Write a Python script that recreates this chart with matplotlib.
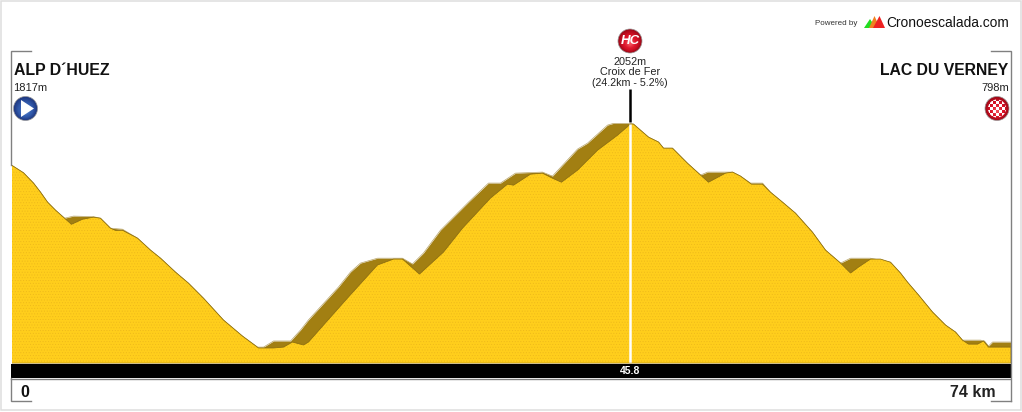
import matplotlib
matplotlib.use("Agg")
import matplotlib.pyplot as plt
from matplotlib.patches import Circle, Polygon, Rectangle
from matplotlib.lines import Line2D
import numpy as np

plt.rcParams['font.family'] = ['Liberation Sans', 'DejaVu Sans']
plt.rcParams['hatch.linewidth'] = 0.35

# silhouette of the profile (ridge line seen from behind)
km_top = [0, 0.89, 1.63, 2.15, 2.67, 3.26, 3.93, 4.59, 6.07, 6.59, 7.33, 8.22, 9.33, 10.30, 11.04, 12.15,
          13.11, 14.22, 15.70, 17.11, 18.22, 18.67, 19.41, 20.67, 21.41, 21.99, 24.22, 25.11, 25.85, 27.11,
          28.96, 29.70, 30.52, 31.78, 33.85, 35.33, 36.22, 37.33, 39.33, 40.07, 41.93, 42.67, 44.15, 44.59,
          45.85, 46.07, 47.19, 47.93, 48.30, 48.96, 50.07, 51.04, 51.56, 53.41, 54.00, 54.74, 55.63, 56.22,
          57.11, 58.07, 59.33, 60.30, 61.41, 62.15, 63.63, 65.11, 65.85, 66.37, 67.19, 68.22, 69.19, 69.93,
          70.44, 71.78, 72.07, 72.37, 72.67, 74]
alt_top = [1817, 1773, 1714, 1662, 1605, 1559, 1513, 1525, 1522, 1513, 1456, 1450, 1399, 1330, 1284, 1204,
           1141, 1055, 930, 838, 775, 775, 810, 810, 873, 930, 1119, 1205, 1256, 1284,
           1284, 1251, 1314, 1445, 1605, 1714, 1714, 1771, 1777, 1754, 1909, 1943, 2046, 2056,
           2056, 2052, 1977, 1949, 1914, 1914, 1828, 1760, 1777, 1777, 1754, 1714, 1714, 1662,
           1605, 1542, 1433, 1330, 1256, 1284, 1284, 1261, 1199, 1147, 1073, 976, 901, 861,
           815, 815, 810, 781, 804, 804]

# lit front face of the profile
km_front = [0, 0.89, 1.63, 2.15, 2.67, 3.26, 3.93, 4.44, 5.26, 6.07, 6.59, 7.33, 7.70, 8.22, 9.33, 10.30, 11.04,
            12.15, 13.11, 14.22, 15.70, 17.11, 18.30, 19.41, 20.15, 20.81, 21.63, 22.00, 23.11, 24.89, 27.11,
            28.30, 28.96, 30.22, 32.00, 33.41, 35.48, 36.74, 37.19, 38.44, 39.33, 40.07, 40.74, 41.93, 43.41,
            44.89, 45.85, 46.07, 47.19, 47.93, 48.30, 48.96, 50.07, 51.04, 51.63, 52.89, 53.41, 54.00, 54.81,
            55.63, 56.22, 57.11, 58.07, 59.33, 60.30, 61.41, 62.15, 62.74, 63.63, 64.37, 65.11, 65.85, 66.37,
            67.19, 68.22, 69.19, 69.93, 70.44, 70.89, 71.56, 72.00, 72.37, 73.26, 74]
alt_front = [1817, 1773, 1714, 1662, 1605, 1559, 1513, 1478, 1507, 1519, 1513, 1456, 1443, 1444, 1399, 1330, 1284,
             1204, 1141, 1055, 930, 838, 770, 770, 775, 804, 787, 804, 901, 1056, 1245,
             1279, 1279, 1193, 1319, 1456, 1628, 1708, 1702, 1765, 1771, 1742, 1719, 1788, 1902,
             1988, 2052, 2052, 1977, 1949, 1914, 1914, 1828, 1760, 1719, 1771, 1777, 1754, 1708,
             1708, 1662, 1605, 1542, 1433, 1330, 1256, 1199, 1233, 1279, 1279, 1261, 1199, 1147,
             1073, 976, 901, 861, 815, 792, 792, 810, 775, 775, 775]

summit_km = 45.8
summit_alt = 2052
total_km = 74
base_alt = 684
top_alt = 2476

W, H = 1022, 412
fig = plt.figure(figsize=(W / 100, H / 100), dpi=100, facecolor='white')

def box(x0, y0, x1, y1):
    return [x0 / W, 1 - y1 / H, (x1 - x0) / W, (y1 - y0) / H]

# profile axes
ax = fig.add_axes(box(11.5, 50, 1010.5, 363))
ax.set_xlim(0, total_km)
ax.set_ylim(base_alt, top_alt)
ax.axis('off')
ax.fill_between(km_top, base_alt, alt_top, color='#A27F12', lw=0, zorder=1)
ax.fill_between(km_front, base_alt, alt_front, facecolor='#FFCE1C', edgecolor='#EDB81A', hatch='......', lw=0, zorder=2)
ax.plot(km_front, alt_front, color='#8A6C10', lw=0.55, zorder=3)
ax.plot(km_top, alt_top, color='#B8A468', lw=0.5, zorder=1.5)
ax.vlines(summit_km, base_alt, summit_alt, color='white', lw=1.8, zorder=4)
ax.axhline(base_alt, color='#8A6C10', lw=1, zorder=4)

# overlay in pixels for the furniture
ov = fig.add_axes([0, 0, 1, 1], zorder=5)
ov.set_xlim(0, W)
ov.set_ylim(H, 0)
ov.axis('off')
ov.patch.set_alpha(0)

# outer frame
ov.add_patch(Rectangle((0.5, 0.5), W - 2, H - 2.5, fill=False, ec='#DEDEDE', lw=1.1))

# brackets
grey = '#808080'
for xs, ys in [([31, 11, 11], [50.5, 50.5, 165]),
               ([991, 1010.5, 1010.5], [50.5, 50.5, 400.5]),
               ([11, 11, 31], [378, 400.5, 400.5]),
               ([1010.5, 991], [400.5, 400.5])]:
    ov.add_line(Line2D(xs, ys, color=grey, lw=1.0, solid_joinstyle='miter'))

# bar
ov.add_patch(Rectangle((11, 363.5), 999.5, 14.5, fc='black', ec='none'))
ov.add_line(Line2D([11, 1010], [378.5, 378.5], color=grey, lw=1))
ov.text(630, 371.5, f'{summit_km}', color='white', fontsize=7.5, fontweight='bold', ha='center', va='center')

# summit stem
ov.add_line(Line2D([630, 630], [89, 122], color='black', lw=1.8, solid_capstyle='butt'))

def ball(cx, cy, r, dark, mid, light):
    dark, mid, light = map(np.array, (dark, mid, light))
    n = 14
    for i in range(n):
        t = i / (n - 1)
        c = dark + (mid - dark) * min(1, t * 2.2) + (light - mid) * max(0, t - 0.55) / 0.45
        off = 2.5 * t
        ov.add_patch(Circle((cx, cy + off), r * (1 - 0.85 * t), fc=np.clip(c, 0, 1), ec='none'))
    ov.add_patch(Circle((cx, cy), r, fill=False, ec='#9A9A9A', lw=0.5))

blue = ((0.12, 0.22, 0.50), (0.20, 0.36, 0.68), (0.34, 0.52, 0.82))
red = ((0.62, 0.03, 0.09), (0.86, 0.08, 0.16), (0.95, 0.30, 0.35))

ball(25.5, 108.5, 12, *blue)
ov.add_patch(Polygon([[21, 100], [21, 117], [34, 108.5]], fc='white', ec='none'))

ball(630, 41, 12, *red)
ov.text(630, 41, 'HC', color='white', fontsize=9.5, fontweight='bold', fontstyle='italic', ha='center', va='center')

ball(997, 108.5, 12, *red)
clip = Circle((997, 108.5), 9, transform=ov.transData)
for i in range(-3, 4):
    for j in range(-3, 4):
        if (i + j) % 2 == 0:
            s = Rectangle((997 + i * 3 - 1.5, 108.5 + j * 3 - 1.5), 3, 3, fc='white', ec='none')
            ov.add_patch(s)
            s.set_clip_path(clip)

# labels
ov.text(14, 70.5, 'ALP D´HUEZ', fontsize=11.4, fontweight='bold', ha='left', va='center', color='#111111')
ov.text(13.5, 88, '1817m', fontsize=8, ha='left', va='center', color='#222222')
ov.text(1008.5, 70.5, 'LAC DU VERNEY', fontsize=11.3, fontweight='bold', ha='right', va='center', color='#111111')
ov.text(1009, 88, '798m', fontsize=8, ha='right', va='center', color='#222222')
ov.text(630, 61.5, '2052m', fontsize=7.8, ha='center', va='center', color='#222222')
ov.text(630, 72, 'Croix de Fer', fontsize=7.8, ha='center', va='center', color='#222222')
ov.text(630, 82.5, '(24.2km - 5.2%)', fontsize=7.7, ha='center', va='center', color='#222222')
ov.text(25, 392.5, '0', fontsize=11.5, fontweight='bold', ha='center', va='center', color='#111111')
ov.text(996, 392.5, '74 km', fontsize=11.5, fontweight='bold', ha='right', va='center', color='#222222')

# logo
ov.text(815, 23.5, 'Powered by', fontsize=5.8, ha='left', va='center', color='#333333')
ov.add_patch(Polygon([[864, 28], [870, 19], [876, 28]], fc='#22DD22', ec='none'))
ov.add_patch(Polygon([[869, 28], [874.5, 16], [880, 28]], fc='#F08020', ec='none'))
ov.add_patch(Polygon([[873, 28], [879.5, 16], [885, 28]], fc='#EE2222', ec='none'))
ov.text(886, 23, 'Cronoescalada.com', fontsize=9.9, ha='left', va='center', color='#111111')

fig.savefig('out.png', dpi=100, facecolor='white')
